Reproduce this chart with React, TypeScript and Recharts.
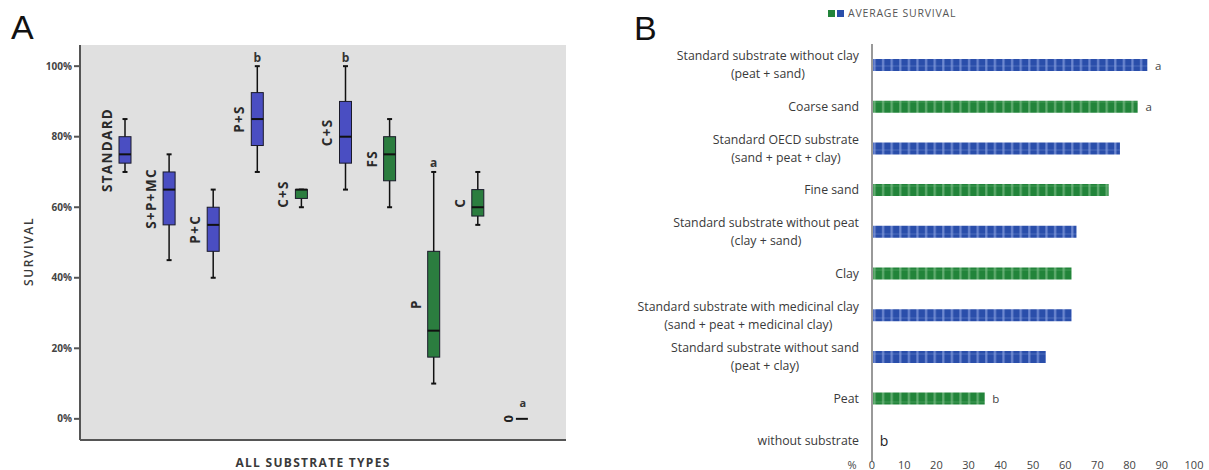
import React from 'react';
import {
  ComposedChart,
  BarChart,
  Bar,
  Cell,
  XAxis,
  YAxis,
  CartesianGrid,
  LabelList,
} from 'recharts';

// Panel A: survival per substrate (box plots, %)
const groups = ['STANDARD', 'S+P+MC', 'P+C', 'P+S', 'C+S', 'C+S', 'FS', 'P', 'C', '0'];
const kinds = ['mix', 'mix', 'mix', 'mix', 'single', 'mix', 'single', 'single', 'single', 'none'];
const whiskerLow = [70, 45, 40, 70, 60, 65, 60, 10, 55, 0];
const quartile1 = [72.5, 55, 47.5, 77.5, 62.5, 72.5, 67.5, 17.5, 57.5, 0];
const medians = [75, 65, 55, 85, 65, 80, 75, 25, 60, 0];
const quartile3 = [80, 70, 60, 92.5, 65, 90, 80, 47.5, 65, 0];
const whiskerHigh = [85, 75, 65, 100, 65, 100, 85, 70, 70, 0];
const boxLetters = ['', '', '', 'b', '', 'b', '', 'a', '', 'a'];
const survivalTicks = [0, 20, 40, 60, 80, 100];

// Panel B: average survival per substrate (%)
const substrates = [
  'Standard substrate without clay\n(peat + sand)',
  'Coarse sand',
  'Standard OECD substrate\n(sand + peat + clay)',
  'Fine sand',
  'Standard substrate without peat\n(clay + sand)',
  'Clay',
  'Standard substrate with medicinal clay\n(sand + peat + medicinal clay)',
  'Standard substrate without sand\n(peat + clay)',
  'Peat',
  'without substrate',
];
const substrateKinds = ['mix', 'single', 'mix', 'single', 'mix', 'single', 'mix', 'mix', 'single', 'none'];
const averageSurvival = [85.5, 82.5, 77, 73.5, 63.5, 62, 62, 54, 35, 0];
const averageLetters = ['a', 'a', '', '', '', '', '', '', 'b', 'b'];
const percentTicks = [0, 10, 20, 30, 40, 50, 60, 70, 80, 90, 100];

const boxFill: Record<string, string> = { mix: '#4a4ec2', single: '#2b7d3f', none: 'none' };
const barFill: Record<string, string> = { mix: 'url(#stripeBlue)', single: 'url(#stripeGreen)', none: 'none' };

const boxData = groups.map((g, i) => ({
  id: i,
  group: g,
  range: [whiskerLow[i], whiskerHigh[i]],
}));

const barData = substrates.map((s, i) => ({
  name: s,
  value: averageSurvival[i],
  letter: averageLetters[i],
}));

const FONT = '"Open Sans", "DejaVu Sans", sans-serif';
const LABEL_SIZE = 12.3;

let measureCtx: CanvasRenderingContext2D | null = null;
function textWidth(s: string, font: string) {
  if (!measureCtx) measureCtx = document.createElement('canvas').getContext('2d');
  if (!measureCtx) return s.length * 6;
  measureCtx.font = font;
  return measureCtx.measureText(s).width;
}

function BoxShape(props: any) {
  const { x, y, width, height, index } = props;
  const lo = whiskerLow[index];
  const hi = whiskerHigh[index];
  const top = Math.min(y, y + height);
  const bottom = Math.max(y, y + height);
  const py = (v: number) => (hi === lo ? top : bottom - ((v - lo) / (hi - lo)) * (bottom - top));
  const cx = x + width / 2;
  const half = width / 2;
  const yq1 = py(quartile1[index]);
  const yq3 = py(quartile3[index]);
  const ymed = py(medians[index]);
  const mid = (yq1 + yq3) / 2;
  const letter = boxLetters[index];

  if (kinds[index] === 'none') {
    return (
      <g>
        <line x1={cx - half} x2={cx + half} y1={ymed} y2={ymed} stroke="#111" strokeWidth={2} />
        <text x={cx - 14} y={ymed} transform={`rotate(-90 ${cx - 14} ${ymed})`} textAnchor="middle"
          dominantBaseline="central" fontFamily={FONT} fontWeight={700} fontSize={13} fill="#222">
          {groups[index]}
        </text>
        <text x={cx + 1} y={ymed - 12} textAnchor="middle" fontFamily={FONT} fontWeight={700} fontSize={11} fill="#333">
          {letter}
        </text>
      </g>
    );
  }

  return (
    <g>
      <line x1={cx} x2={cx} y1={top} y2={bottom} stroke="#111" strokeWidth={1.5} />
      <line x1={cx - 2.5} x2={cx + 2.5} y1={top} y2={top} stroke="#111" strokeWidth={2} />
      <line x1={cx - 2.5} x2={cx + 2.5} y1={bottom} y2={bottom} stroke="#111" strokeWidth={2} />
      <rect x={cx - half} y={yq3} width={width} height={Math.max(yq1 - yq3, 1)}
        fill={boxFill[kinds[index]]} stroke="#1a1a2a" strokeWidth={1} />
      <line x1={cx - half} x2={cx + half} y1={ymed} y2={ymed} stroke="#111" strokeWidth={2} />
      <text x={cx - 18} y={mid} transform={`rotate(-90 ${cx - 18} ${mid})`} textAnchor="middle"
        dominantBaseline="central" fontFamily={FONT} fontWeight={700} fontSize={13.5} letterSpacing={1.3} fill="#2a2a2a">
        {groups[index]}
      </text>
      {letter && (
        <text x={cx} y={top - 9} textAnchor="middle" dominantBaseline="central" fontFamily={FONT}
          fontWeight={700} fontSize={12} fill="#333">
          {letter}
        </text>
      )}
    </g>
  );
}

function SurvivalLabel({ viewBox }: any) {
  const cy = viewBox.y + viewBox.height / 2 + 9;
  return (
    <text x={28} y={cy} transform={`rotate(-90 28 ${cy})`} textAnchor="middle" dominantBaseline="central"
      fontFamily={FONT} fontSize={12} fontWeight={600} letterSpacing={1.6} fill="#3a3a3a">
      SURVIVAL
    </text>
  );
}

function TypesLabel({ viewBox }: any) {
  const cx = viewBox.x + viewBox.width / 2 - 10;
  return (
    <text x={cx} y={462} textAnchor="middle" dominantBaseline="central"
      fontFamily={FONT} fontSize={12} fontWeight={700} letterSpacing={1.3} fill="#3a3a3a">
      ALL SUBSTRATE TYPES
    </text>
  );
}

function SubstrateTick({ x, y, payload }: any) {
  const lines = String(payload.value).split('\n');
  const font = `${LABEL_SIZE}px ${FONT}`;
  const right = x - 13;
  const style = { fontFamily: FONT, fontSize: LABEL_SIZE, fill: '#3a3a3a' };
  const i = payload.index;
  // letter for a zero-height bar sits next to the axis
  const zeroLetter = averageSurvival[i] === 0 && averageLetters[i] ? (
    <text x={x + 12} y={y} textAnchor="middle" dominantBaseline="central" fontFamily={FONT} fontSize={14} fill="#222">
      {averageLetters[i]}
    </text>
  ) : null;
  if (lines.length === 1) {
    return (
      <g>
        <text x={right} y={y} textAnchor="end" dominantBaseline="central" style={style}>
          {lines[0]}
        </text>
        {zeroLetter}
      </g>
    );
  }
  const w = textWidth(lines[0], font);
  return (
    <g>
      <text x={right} y={y - 9} textAnchor="end" dominantBaseline="central" style={style}>
        {lines[0]}
      </text>
      <text x={right - w / 2} y={y + 9} textAnchor="middle" dominantBaseline="central" style={style}>
        {lines[1]}
      </text>
      {zeroLetter}
    </g>
  );
}

function PercentTick({ x, y, payload }: any) {
  return (
    <g>
      {payload.value === 0 && (
        <text x={x - 20} y={y + 3} textAnchor="middle" dominantBaseline="central"
          fontFamily={FONT} fontSize={11} fill="#444">
          %
        </text>
      )}
      <text x={x} y={y + 3} textAnchor="middle" dominantBaseline="central" fontFamily={FONT} fontSize={11} fill="#444">
        {payload.value}
      </text>
    </g>
  );
}

function LetterLabel(props: any) {
  const { x, y, width, height, value } = props;
  if (!value) return null;
  return (
    <text x={x + width + 11} y={y + height / 2} textAnchor="middle" dominantBaseline="central"
      fontFamily={FONT} fontSize={11.5} fill="#444">
      {value}
    </text>
  );
}

function StripePattern({ id, base, light }: { id: string; base: string; light: string }) {
  return (
    <pattern id={id} patternUnits="userSpaceOnUse" width={8.6} height={12}>
      <rect width={8.6} height={12} fill={base} />
      <rect x={4} width={2.2} height={12} fill={light} opacity={0.7} />
      <rect y={5.5} width={8.6} height={1} fill={light} opacity={0.35} />
    </pattern>
  );
}

export default function App() {
  return (
    <div style={{ position: 'absolute', left: 0, top: 0, width: 1209, height: 470, background: '#fff', overflow: 'hidden' }}>
      <svg width={0} height={0} style={{ position: 'absolute' }}>
        <defs>
          <StripePattern id="stripeBlue" base="#2a4eaa" light="#8aa2e0" />
          <StripePattern id="stripeGreen" base="#22843a" light="#7fc08a" />
        </defs>
      </svg>

      <div style={{ position: 'absolute', left: 11, top: 8, fontFamily: '"Liberation Sans", Arial, sans-serif', fontSize: 34, color: '#111' }}>A</div>
      <div style={{ position: 'absolute', left: 634, top: 9, fontFamily: '"Liberation Sans", Arial, sans-serif', fontSize: 34, color: '#111' }}>B</div>

      {/* Panel A: box plots */}
      <div style={{ position: 'absolute', left: 0, top: 0 }}>
        <ComposedChart width={600} height={470} data={boxData} margin={{ top: 45, right: 34, bottom: 0, left: 0 }}>
          <CartesianGrid fill="#e0e0e0" horizontal={false} vertical={false} />
          <XAxis
            dataKey="id"
            type="category"
            padding={{ left: 23, right: 22 }}
            tick={false}
            tickLine={false}
            height={30}
            axisLine={{ stroke: '#555', strokeWidth: 2 }}
            label={TypesLabel}
          />
          <XAxis xAxisId="top" orientation="top" dataKey="id" type="category" tick={false} tickLine={false} height={0} axisLine={{ stroke: '#666', strokeWidth: 2 }} />
          <YAxis
            domain={[-6, 106]}
            ticks={survivalTicks}
            tickFormatter={(v) => `${v}%`}
            tick={{ fill: '#444', fontSize: 10, fontWeight: 700, fontFamily: FONT }}
            tickSize={6}
            tickLine={{ stroke: '#555', strokeWidth: 2 }}
            axisLine={{ stroke: '#555', strokeWidth: 2 }}
            width={80}
            label={SurvivalLabel}
          />
          <YAxis yAxisId="right" orientation="right" domain={[0, 1]} tick={false} tickLine={false} width={0} axisLine={{ stroke: '#777', strokeWidth: 2 }} />
          <Bar dataKey="range" barSize={12} shape={BoxShape} isAnimationActive={false} />
        </ComposedChart>
      </div>

      {/* Panel B: average survival */}
      <div style={{ position: 'absolute', left: 828, top: 6, display: 'flex', alignItems: 'center', fontFamily: FONT, fontSize: 10.5, letterSpacing: 0.8, color: '#555' }}>
        <span style={{ display: 'inline-block', width: 7, height: 7, background: '#22843a', marginRight: 2 }} />
        <span style={{ display: 'inline-block', width: 7, height: 7, background: '#2a4eaa', marginRight: 4 }} />
        AVERAGE SURVIVAL
      </div>
      <div style={{ position: 'absolute', left: 620, top: 0 }}>
        <BarChart width={589} height={470} data={barData} layout="vertical" margin={{ top: 44, right: 15, bottom: 0, left: 0 }}>
          <XAxis
            type="number"
            domain={[0, 100]}
            ticks={percentTicks}
            axisLine={false}
            tickLine={false}
            tickSize={0}
            tickMargin={0}
            height={9}
            tick={PercentTick}
          />
          <YAxis
            type="category"
            dataKey="name"
            width={252}
            tickLine={false}
            tickSize={0}
            tickMargin={0}
            axisLine={{ stroke: '#999', strokeWidth: 2 }}
            tick={SubstrateTick}
            interval={0}
          />
          <Bar dataKey="value" barSize={12} isAnimationActive={false}>
            {barData.map((d, i) => (
              <Cell key={d.name} fill={barFill[substrateKinds[i]]} />
            ))}
            <LabelList dataKey="letter" content={LetterLabel} />
          </Bar>
        </BarChart>
      </div>
    </div>
  );
}
